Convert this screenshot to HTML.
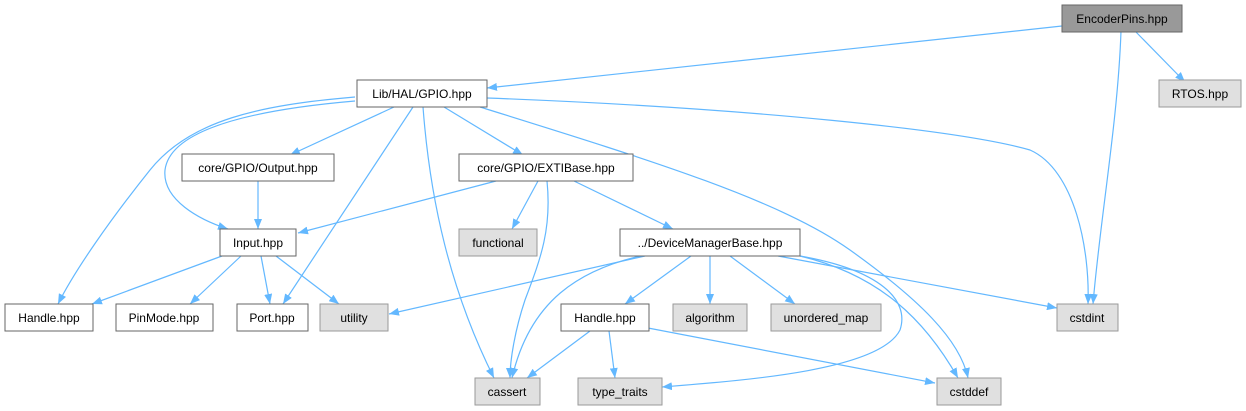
<!DOCTYPE html>
<html><head><meta charset="utf-8"><style>
html,body{margin:0;padding:0;background:#fff;}
svg{display:block;font-family:"Liberation Sans",sans-serif;}
</style></head><body>
<svg width="1246" height="411" viewBox="0 0 1246 411" xmlns="http://www.w3.org/2000/svg">
<defs>
<marker id="a" viewBox="0 0 10 8" refX="10" refY="4" markerWidth="10" markerHeight="8" markerUnits="userSpaceOnUse" orient="auto">
<path d="M0,0 L10,4 L0,8 z" fill="#63b8ff"/></marker>
</defs>
<g fill="none" stroke="#63b8ff" stroke-width="1.2" marker-end="url(#a)">
<path d="M1062,26 L487,88"/>
<path d="M1121,31 C1118,120 1100,220 1093,304"/>
<path d="M1135,31 L1185,82"/>
<path d="M394,107 L290,155"/>
<path d="M444,107 L523,155"/>
<path d="M355,101 C250,110 170,130 165,170 C162,200 200,220 228,229"/>
<path d="M355,97 C260,105 190,120 150,170 C110,220 75,270 58,304"/>
<path d="M413,107 L283,304"/>
<path d="M423,107 C430,200 450,290 494,378"/>
<path d="M480,107 C650,160 780,200 850,250 C920,300 960,340 968,378"/>
<path d="M487,98 C750,108 960,130 1030,150 C1075,170 1090,250 1088,304"/>
<path d="M258,181 L258,229"/>
<path d="M496,181 L298,233"/>
<path d="M538,181 L512,229"/>
<path d="M547,181 C552,230 540,260 525,300 C515,330 510,360 510,378"/>
<path d="M574,181 L673,229"/>
<path d="M222,256 L92,304"/>
<path d="M241,256 L190,304"/>
<path d="M261,256 L270,304"/>
<path d="M276,256 L339,304"/>
<path d="M645,256 L389,314"/>
<path d="M640,256 C580,270 530,300 512,378"/>
<path d="M691,256 L625,304"/>
<path d="M710,256 L710,304"/>
<path d="M730,256 L795,304"/>
<path d="M778,256 L1057,308"/>
<path d="M800,256 C880,275 925,320 958,378"/>
<path d="M800,256 C880,270 910,300 900,330 C880,370 750,380 662,387"/>
<path d="M590,331 L527,378"/>
<path d="M609,331 L615,378"/>
<path d="M648,328 L935,383"/>
</g>
<g font-size="12" text-anchor="middle" stroke-width="1">
<rect x="1062" y="5" width="120" height="27" fill="#999" stroke="#666"/><text x="1122" y="23">EncoderPins.hpp</text>
<rect x="1159" y="80" width="82" height="27" fill="#e0e0e0" stroke="#999"/><text x="1200" y="98">RTOS.hpp</text>
<rect x="357" y="80" width="130" height="27" fill="#fff" stroke="#666"/><text x="422" y="98">Lib/HAL/GPIO.hpp</text>
<rect x="182" y="154" width="152" height="27" fill="#fff" stroke="#666"/><text x="258" y="172">core/GPIO/Output.hpp</text>
<rect x="459" y="154" width="174" height="27" fill="#fff" stroke="#666"/><text x="546" y="172">core/GPIO/EXTIBase.hpp</text>
<rect x="220" y="229" width="76" height="27" fill="#fff" stroke="#666"/><text x="258" y="247">Input.hpp</text>
<rect x="459" y="229" width="78" height="27" fill="#e0e0e0" stroke="#999"/><text x="498" y="247">functional</text>
<rect x="620" y="229" width="180" height="27" fill="#fff" stroke="#666"/><text x="710" y="247">../DeviceManagerBase.hpp</text>
<rect x="5" y="304" width="88" height="27" fill="#fff" stroke="#666"/><text x="49" y="322">Handle.hpp</text>
<rect x="116" y="304" width="97" height="27" fill="#fff" stroke="#666"/><text x="164" y="322">PinMode.hpp</text>
<rect x="237" y="304" width="71" height="27" fill="#fff" stroke="#666"/><text x="272" y="322">Port.hpp</text>
<rect x="320" y="304" width="68" height="27" fill="#e0e0e0" stroke="#999"/><text x="354" y="322">utility</text>
<rect x="561" y="304" width="88" height="27" fill="#fff" stroke="#666"/><text x="605" y="322">Handle.hpp</text>
<rect x="673" y="304" width="74" height="27" fill="#e0e0e0" stroke="#999"/><text x="710" y="322">algorithm</text>
<rect x="771" y="304" width="110" height="27" fill="#e0e0e0" stroke="#999"/><text x="826" y="322">unordered_map</text>
<rect x="1057" y="304" width="61" height="27" fill="#e0e0e0" stroke="#999"/><text x="1087" y="322">cstdint</text>
<rect x="475" y="378" width="65" height="27" fill="#e0e0e0" stroke="#999"/><text x="507" y="396">cassert</text>
<rect x="578" y="378" width="84" height="27" fill="#e0e0e0" stroke="#999"/><text x="620" y="396">type_traits</text>
<rect x="937" y="378" width="64" height="27" fill="#e0e0e0" stroke="#999"/><text x="969" y="396">cstddef</text>
</g>
</svg>
</body></html>
